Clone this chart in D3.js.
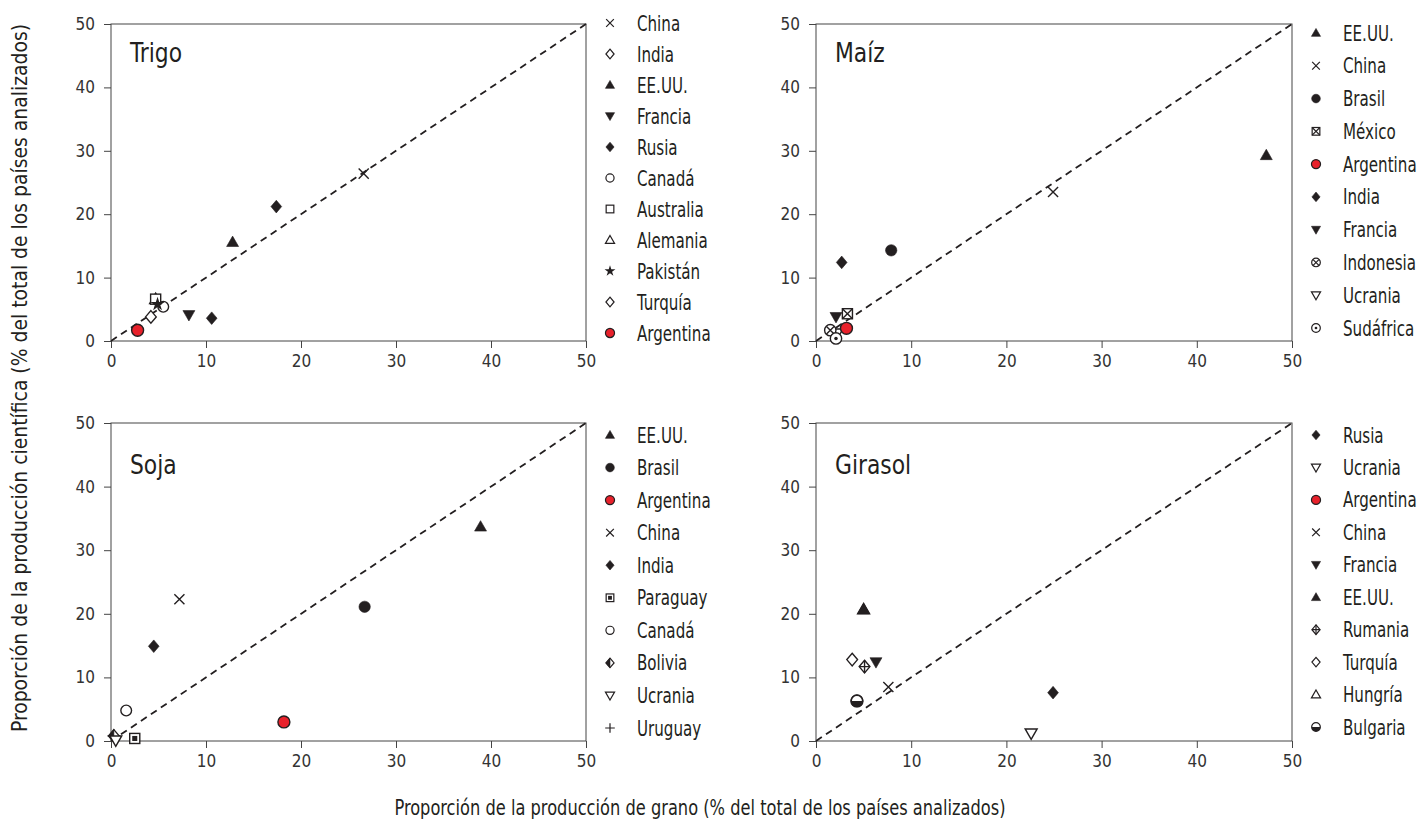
<!DOCTYPE html>
<meta charset="utf-8">
<style>
body { margin: 0; background: #fff; }
text { font-family: "DejaVu Sans Condensed", "Liberation Sans Narrow", sans-serif; fill: #231f20; }
.tick text { font-size: 17px; fill: #333; }
.tick line, .domain { stroke: #444; }
</style>
<body>
<script src="https://d3js.org/d3.v7.min.js"></script>
<script>

// ---- data ----
var ticks = [0, 10, 20, 30, 40, 50];

var trigoPaises = ["China", "India", "EE.UU.", "Francia", "Rusia", "Canadá", "Australia", "Alemania", "Pakistán", "Turquía", "Argentina"];
var trigoSim    = ["cruz", "romboAbierto", "triArriba", "triAbajo", "rombo", "circuloAbierto", "cuadradoAbierto", "triArribaAbierto", "estrella", "romboAbierto", "circuloRojo"];
var trigoSimGraf = ["cruz", "rombo", "triArriba", "triAbajo", "rombo", "circuloAbierto", "cuadradoAbierto", "triArribaAbierto", "estrella", "romboAbierto", "circuloRojo"];
var trigoX = [26.6, 17.4, 12.8, 8.2, 10.6, 5.5, 4.7, 4.7, 4.9, 4.2, 2.8];
var trigoY = [26.4, 21.2, 15.6, 4.1, 3.6, 5.4, 6.6, 6.6, 5.8, 3.8, 1.7];
var trigoDebajo = ["Alemania"];

var maizPaises = ["EE.UU.", "China", "Brasil", "México", "Argentina", "India", "Francia", "Indonesia", "Ucrania", "Sudáfrica"];
var maizSim    = ["triArriba", "cruz", "circulo", "cuadradoX", "circuloRojo", "rombo", "triAbajo", "circuloX", "triAbajoAbierto", "circuloPunto"];
var maizX = [47.3, 24.9, 7.9, 3.3, 3.2, 2.7, 2.1, 1.5, 2.2, 2.1];
var maizY = [29.3, 23.5, 14.3, 4.3, 2.0, 12.4, 3.8, 1.7, 1.2, 0.4];
var maizDebajo = ["Ucrania"];

var sojaPaises = ["EE.UU.", "Brasil", "Argentina", "China", "India", "Paraguay", "Canadá", "Bolivia", "Ucrania", "Uruguay"];
var sojaSim    = ["triArriba", "circulo", "circuloRojo", "cruz", "rombo", "cuadradoPunto", "circuloAbierto", "romboMedio", "triAbajoAbierto", "mas"];
var sojaX = [38.9, 26.7, 18.2, 7.2, 4.5, 2.5, 1.6, 0.3, 0.5, 0.3];
var sojaY = [33.7, 21.1, 3.0, 22.3, 14.9, 0.4, 4.8, 0.8, 0.1, 0.8];
var sojaDebajo = ["Uruguay"];

var girasolPaises = ["Rusia", "Ucrania", "Argentina", "China", "Francia", "EE.UU.", "Rumania", "Turquía", "Hungría", "Bulgaria"];
var girasolSim    = ["rombo", "triAbajoAbierto", "circuloRojo", "cruz", "triAbajo", "triArriba", "romboMas", "romboAbierto", "triArribaAbierto", "circuloMedio"];
var girasolX = [24.9, 22.6, 4.3, 7.6, 6.3, 5.0, 5.1, 3.8, 5.0, 4.3];
var girasolY = [7.6, 1.2, 6.3, 8.5, 12.4, 20.7, 11.7, 12.8, 20.7, 6.3];
var girasolDebajo = ["Argentina", "Hungría"];

// ---- layout ----
var W = 1424, H = 822;
var colX = [[111, 586], [816, 1292]];
var filaY = [[341, 24], [741, 423]];

var paneles = [
    {titulo: "Trigo", paises: trigoPaises, sim: trigoSim, simGraf: trigoSimGraf, x: trigoX, y: trigoY, debajo: trigoDebajo,
     col: 0, fila: 0, tituloDy: 38, leyenda: [23, 333]},
    {titulo: "Maíz", paises: maizPaises, sim: maizSim, simGraf: maizSim, x: maizX, y: maizY, debajo: maizDebajo,
     col: 1, fila: 0, tituloDy: 38, leyenda: [33, 328]},
    {titulo: "Soja", paises: sojaPaises, sim: sojaSim, simGraf: sojaSim, x: sojaX, y: sojaY, debajo: sojaDebajo,
     col: 0, fila: 1, tituloDy: 51, leyenda: [435, 728]},
    {titulo: "Girasol", paises: girasolPaises, sim: girasolSim, simGraf: girasolSim, x: girasolX, y: girasolY, debajo: girasolDebajo,
     col: 1, fila: 1, tituloDy: 51, leyenda: [435, 727]}
];

var negro = "#231f20";

// condensed-looking text: squeeze horizontally
function texto(parent, x, y, str, size, sx) {
    return parent.append("g")
        .attr("transform", "translate(" + x + "," + y + ") scale(" + sx + ",1)")
        .append("text")
        .attr("font-size", size)
        .text(str);
}

// draws one marker centred at 0,0 inside g, half size r
function marcador(g, tipo, r) {
    var sw = r > 5 ? 1.4 : 1.2;
    function linea(d) {
        g.append("path").attr("d", d).attr("fill", "none").attr("stroke", negro).attr("stroke-width", sw);
    }
    function poli(pts, fill) {
        g.append("polygon")
            .attr("points", pts.map(function(p) { return p.join(","); }).join(" "))
            .attr("fill", fill).attr("stroke", negro)
            .attr("stroke-width", fill == "white" ? sw : 0.6);
    }
    function circ(rr, fill) {
        g.append("circle").attr("r", rr).attr("fill", fill).attr("stroke", negro)
            .attr("stroke-width", fill == negro ? 0.6 : sw);
    }
    var rombo = [[0, -r], [r * 0.85, 0], [0, r], [-r * 0.85, 0]];
    var triA = [[0, -r * 0.95], [r * 0.95, r * 0.7], [-r * 0.95, r * 0.7]];
    var triB = [[0, r * 0.95], [r * 0.95, -r * 0.7], [-r * 0.95, -r * 0.7]];
    var c = r * 0.8;
    switch (tipo) {
        case "cruz":
            linea("M" + -c + "," + -c + "L" + c + "," + c + "M" + -c + "," + c + "L" + c + "," + -c);
            break;
        case "mas":
            linea("M" + -r + ",0H" + r + "M0," + -r + "V" + r);
            break;
        case "rombo": poli(rombo, negro); break;
        case "romboAbierto": poli(rombo, "white"); break;
        case "romboMas":
            poli(rombo, "white");
            linea("M" + (-r * 0.85) + ",0H" + (r * 0.85) + "M0," + -r + "V" + r);
            break;
        case "romboMedio":
            poli(rombo, "white");
            poli([[0, -r], [0, r], [-r * 0.85, 0]], negro);
            break;
        case "triArriba": poli(triA, negro); break;
        case "triAbajo": poli(triB, negro); break;
        case "triArribaAbierto": poli(triA, "white"); break;
        case "triAbajoAbierto": poli(triB, "white"); break;
        case "circulo": circ(r * 0.9, negro); break;
        case "circuloAbierto": circ(r * 0.85, "white"); break;
        case "circuloRojo": circ(r * 0.95, "#e8212b"); break;
        case "cuadradoAbierto":
            g.append("rect").attr("x", -r * 0.8).attr("y", -r * 0.8).attr("width", r * 1.6).attr("height", r * 1.6)
                .attr("fill", "white").attr("stroke", negro).attr("stroke-width", sw);
            break;
        case "cuadradoX":
            g.append("rect").attr("x", -r * 0.8).attr("y", -r * 0.8).attr("width", r * 1.6).attr("height", r * 1.6)
                .attr("fill", "white").attr("stroke", negro).attr("stroke-width", sw);
            linea("M" + -c + "," + -c + "L" + c + "," + c + "M" + -c + "," + c + "L" + c + "," + -c);
            break;
        case "cuadradoPunto":
            g.append("rect").attr("x", -r * 0.8).attr("y", -r * 0.8).attr("width", r * 1.6).attr("height", r * 1.6)
                .attr("fill", "white").attr("stroke", negro).attr("stroke-width", sw);
            g.append("rect").attr("x", -r * 0.4).attr("y", -r * 0.4).attr("width", r * 0.8).attr("height", r * 0.8)
                .attr("fill", negro);
            break;
        case "estrella":
            g.append("path").attr("d", d3.symbol(d3.symbolStar, r * r * 1.6)()).attr("fill", negro);
            break;
        case "circuloX":
            circ(r * 0.9, "white");
            var k = r * 0.6;
            linea("M" + -k + "," + -k + "L" + k + "," + k + "M" + -k + "," + k + "L" + k + "," + -k);
            break;
        case "circuloPunto":
            circ(r * 0.9, "white");
            g.append("circle").attr("r", r * 0.28).attr("fill", negro);
            break;
        case "circuloMedio":
            circ(r * 0.9, "white");
            var rr = r * 0.9;
            g.append("path").attr("d", "M" + -rr + ",0A" + rr + "," + rr + " 0 0,0 " + rr + ",0Z").attr("fill", negro);
            break;
    }
}

var svg = d3.select("body").append("svg")
    .attr("width", W)
    .attr("height", H);

paneles.forEach(function(p) {
    var x = d3.scaleLinear().domain([0, 50]).range(colX[p.col]);
    var y = d3.scaleLinear().domain([0, 50]).range(filaY[p.fila]);
    var g = svg.append("g");

    // frame
    g.append("rect")
        .attr("x", x(0)).attr("y", y(50))
        .attr("width", x(50) - x(0)).attr("height", y(0) - y(50))
        .attr("fill", "none").attr("stroke", "#444").attr("stroke-width", 1);

    g.append("g")
        .attr("transform", "translate(0," + y(0) + ")")
        .call(d3.axisBottom(x).tickValues(ticks).tickSize(7).tickSizeOuter(0).tickPadding(7));
    g.append("g")
        .attr("transform", "translate(" + x(0) + ",0)")
        .call(d3.axisLeft(y).tickValues(ticks).tickSize(7).tickSizeOuter(0).tickPadding(9));
    g.selectAll(".domain").remove();

    // 1:1 line
    g.append("line")
        .attr("x1", x(0)).attr("y1", y(0))
        .attr("x2", x(50)).attr("y2", y(50))
        .attr("stroke", negro).attr("stroke-width", 1.8)
        .attr("stroke-dasharray", "7,5");

    texto(g, x(0) + 19, y(50) + p.tituloDy, p.titulo, 27, 0.9);

    // points: hidden ones first
    var idx = d3.range(p.paises.length);
    idx.sort(function(a, b) {
        var da = p.debajo.indexOf(p.paises[a]) >= 0 ? 0 : 1;
        var db = p.debajo.indexOf(p.paises[b]) >= 0 ? 0 : 1;
        return da - db || a - b;
    });
    idx.forEach(function(i) {
        var m = g.append("g").attr("transform", "translate(" + x(p.x[i]) + "," + y(p.y[i]) + ")");
        marcador(m, p.simGraf[i], 6.3);
    });

    // legend
    var ly = d3.scalePoint().domain(p.paises).range(p.leyenda);
    var lx = x(50) + 24;
    p.paises.forEach(function(nombre, i) {
        var m = g.append("g").attr("transform", "translate(" + lx + "," + ly(nombre) + ")");
        marcador(m, p.sim[i], 4.8);
        texto(g, lx + 27, ly(nombre), nombre, 21, 0.8)
            .attr("dy", "0.36em");
    });
});

texto(svg, 0, 0, "Proporción de la producción de grano (% del total de los países analizados)", 21, 0.86)
    .attr("text-anchor", "middle")
    .attr("x", 700 / 0.86).attr("y", 815);

svg.append("g")
    .attr("transform", "translate(27,378) rotate(-90) scale(0.95,1)")
    .append("text")
    .attr("text-anchor", "middle")
    .attr("font-size", 22)
    .text("Proporción de la producción científica (% del total de los países analizados)");

</script>
</body>
